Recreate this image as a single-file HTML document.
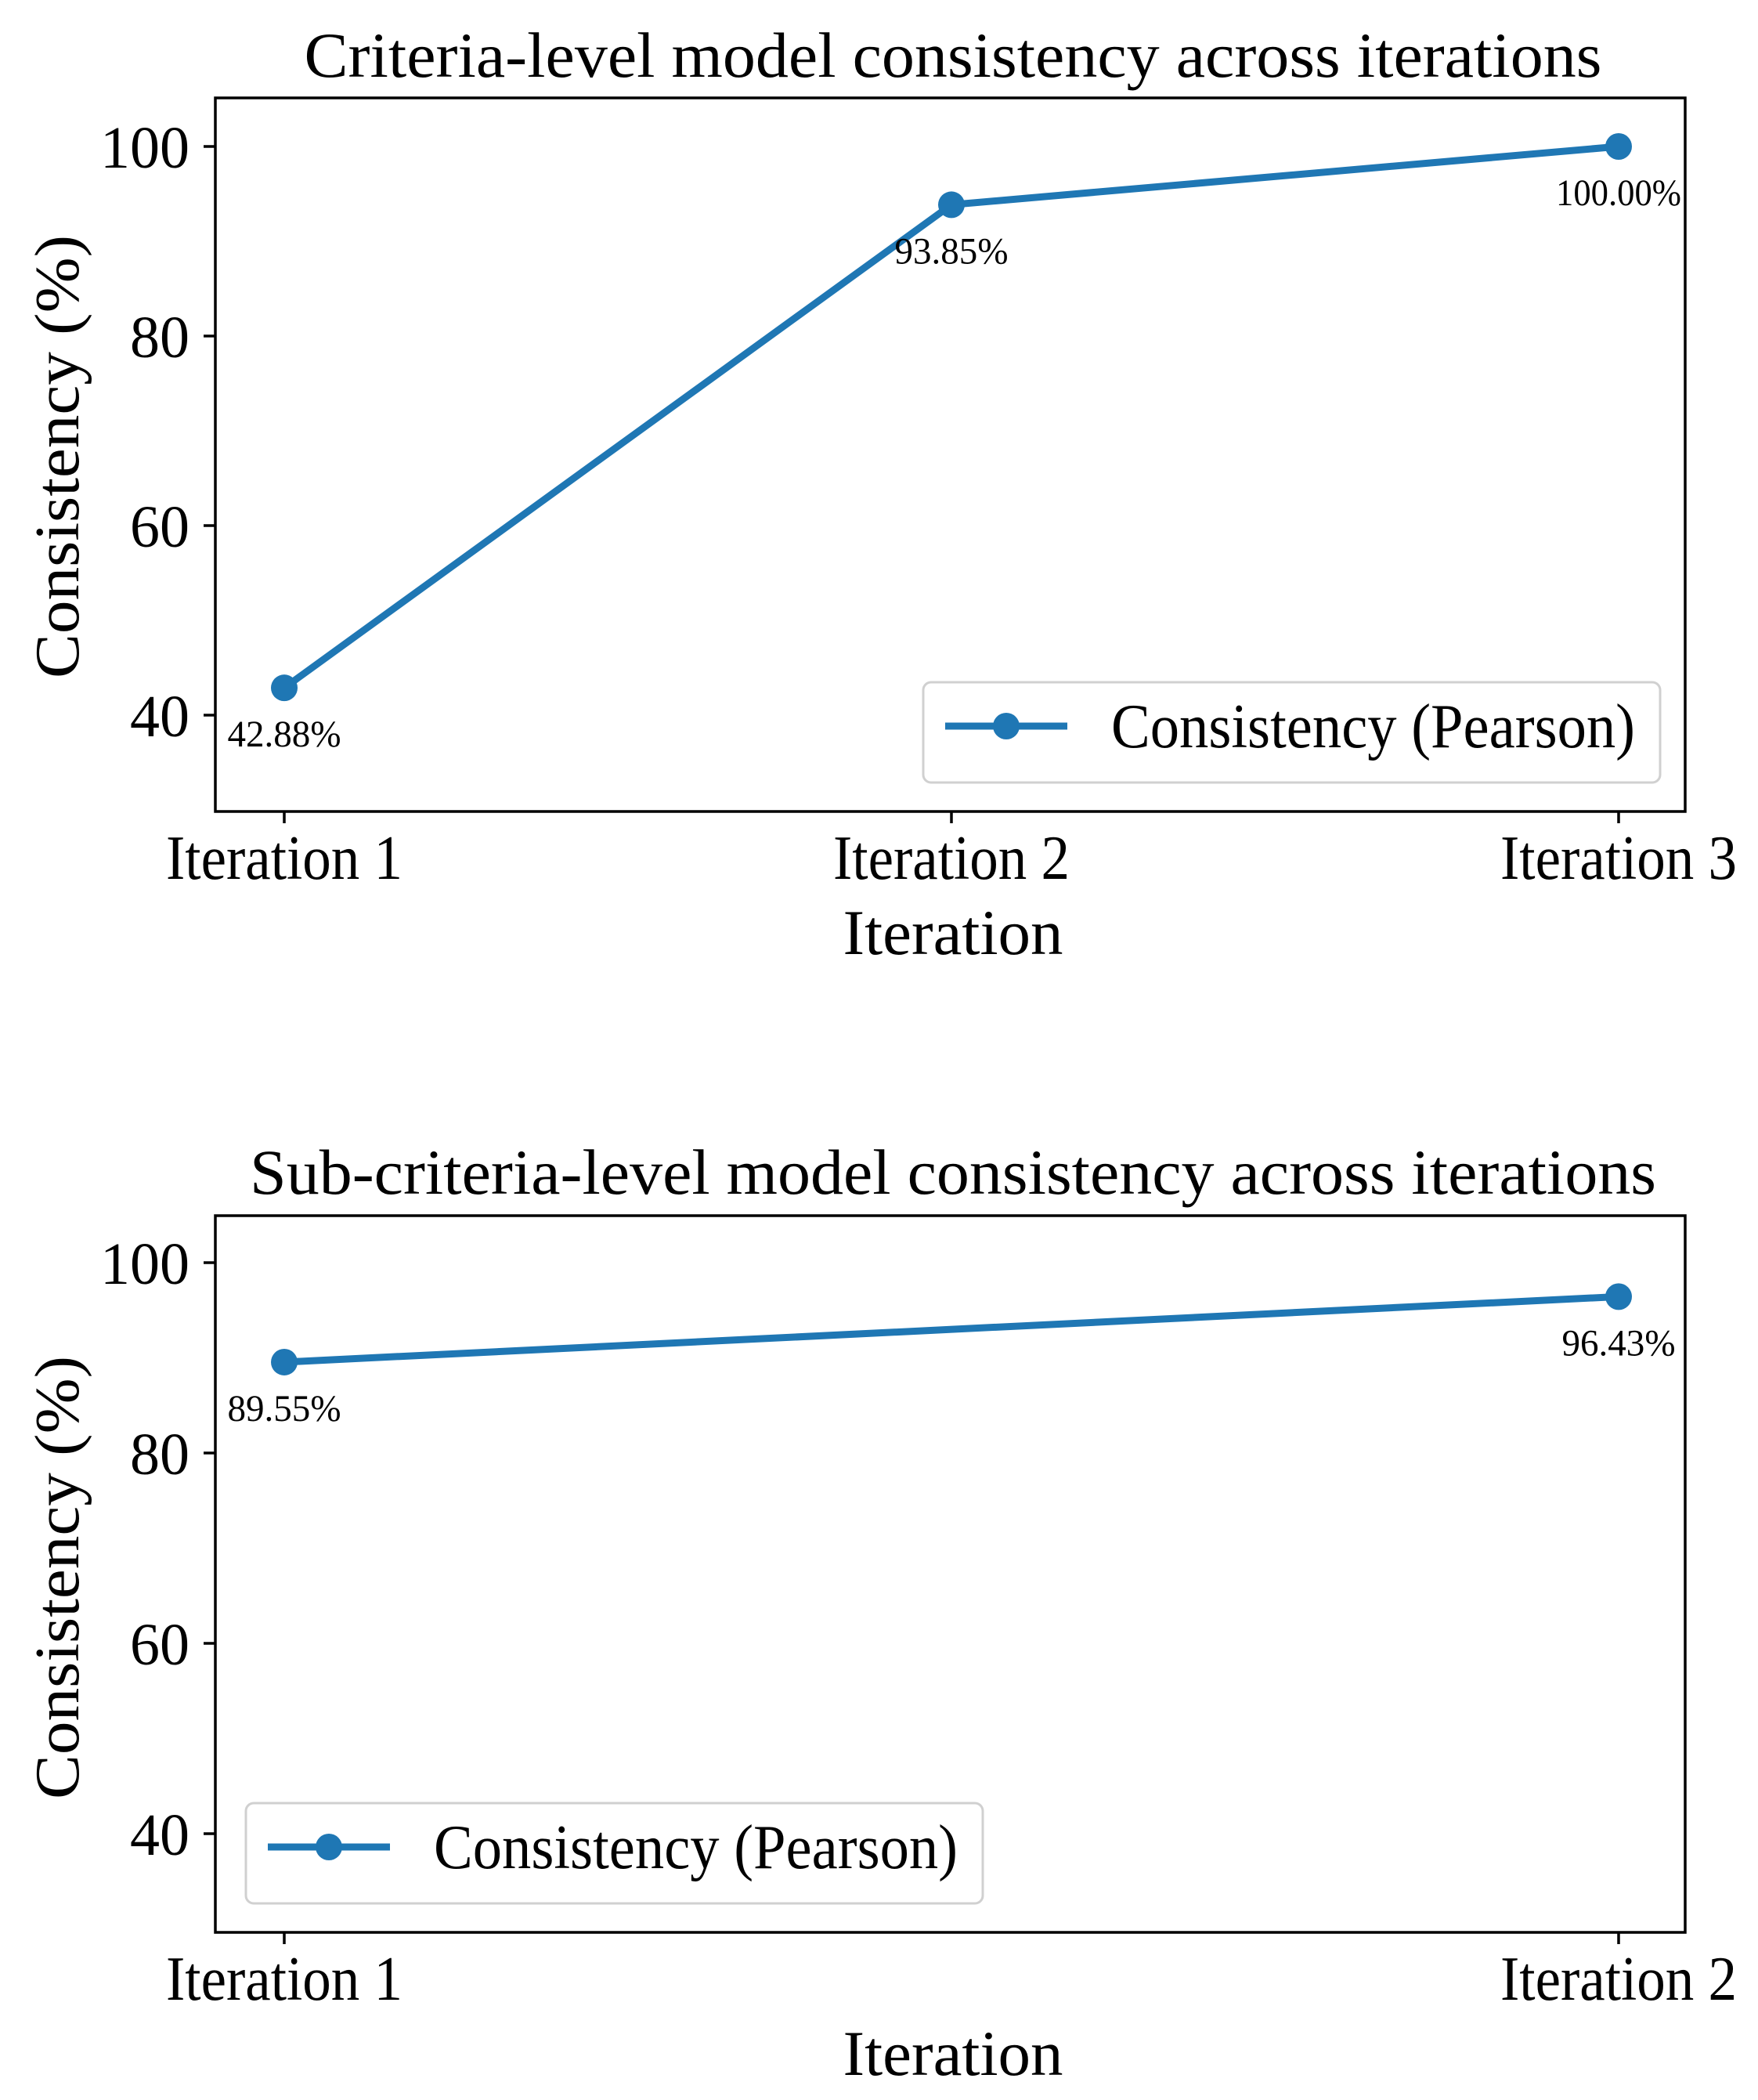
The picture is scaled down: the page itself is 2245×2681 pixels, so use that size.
<!DOCTYPE html>
<html><head><meta charset="utf-8"><style>
html,body{margin:0;padding:0;background:#fff;}
svg{display:block;}
text{font-family:"Liberation Serif",serif;fill:#000;}
</style></head><body>
<svg id="fig" width="2245" height="2681" viewBox="0 0 2245 2681" xmlns="http://www.w3.org/2000/svg"></svg>
<script>
const cats1 = ["Iteration 1","Iteration 2","Iteration 3"];
const vals1 = [42.88, 93.85, 100.00];
const cats2 = ["Iteration 1","Iteration 2"];
const vals2 = [89.55, 96.43];
const yTicks = [40, 60, 80, 100];
const titles = ["Criteria-level model consistency across iterations","Sub-criteria-level model consistency across iterations"];

const NS = "http://www.w3.org/2000/svg";
const svg = document.getElementById('fig');
function mk(tag, attrs, parent){
  const e = document.createElementNS(NS, tag);
  for (const k in attrs) e.setAttribute(k, attrs[k]);
  (parent||svg).appendChild(e);
  return e;
}
const BLUE = "#1f77b4";

function drawChart(cfg){
  const g = mk('g', {});
  
  
  const L=275, R=2152, T=cfg.top, B=cfg.bottom;
  const X0=363, X1=2067;
  const n = cfg.cats.length;
  const xs = i => X0 + (X1-X0)*i/(n-1);
  const ys = v => cfg.y100 + (100-v)*cfg.ppu;

  const t = mk('text', {x:1217, y:cfg.titleY, 'text-anchor':'middle', 'font-size':82, textLength:cfg.titleW, lengthAdjust:'spacingAndGlyphs'}, g);
  t.textContent = cfg.title;
  
  

  yTicks.forEach(v=>{
    const y = ys(v);
    const tk = mk('line', {x1:L-15, x2:L, y1:y, y2:y, stroke:'#000', 'stroke-width':3.5}, g);
    
    
    const tl = mk('text', {x:242, y:y+27, 'text-anchor':'end', 'font-size':76}, g);
    tl.textContent = v;
    
    
  });
  cfg.cats.forEach((c,i)=>{
    const x = xs(i);
    const tk = mk('line', {x1:x, x2:x, y1:B, y2:B+15, stroke:'#000', 'stroke-width':3.5}, g);
    
    
    const tl = mk('text', {x:x, y:B+86, 'text-anchor':'middle', 'font-size':80, textLength:302, lengthAdjust:'spacingAndGlyphs'}, g);
    tl.textContent = c;
    
    
  });
  const xl = mk('text', {x:1217, y:B+182, 'text-anchor':'middle', 'font-size':82, textLength:281, lengthAdjust:'spacingAndGlyphs'}, g);
  xl.textContent = 'Iteration';
  
  
  const yl = mk('text', {x:0, y:0, 'text-anchor':'middle', 'font-size':80, textLength:566, lengthAdjust:'spacingAndGlyphs', transform:`translate(100,${cfg.ylabelY}) rotate(-90)`}, g);
  yl.textContent = 'Consistency (%)';
  
  

  const pts = cfg.vals.map((v,i)=>xs(i)+','+ys(v)).join(' ');
  const pl = mk('polyline', {points:pts, fill:'none', stroke:BLUE, 'stroke-width':9, 'stroke-linejoin':'round'}, g);
  
  
  cfg.vals.forEach((v,i)=>{
    const c = mk('circle', {cx:xs(i), cy:ys(v), r:17, fill:BLUE}, g);
    
    
    const lb = mk('text', {x:xs(i), y:ys(v)+75, 'text-anchor':'middle', 'font-size':48, textLength:(v>=100?160:145), lengthAdjust:'spacingAndGlyphs'}, g);
    lb.textContent = v.toFixed(2)+'%';
    
    
  });

  const fr = mk('rect', {x:L, y:T, width:R-L, height:B-T, fill:'none', stroke:'#000', 'stroke-width':3.5}, g);
  
  

  const lg = mk('g', {}, g);
  
  
  const lx = cfg.legX, lyT = cfg.legY;
  mk('rect', {x:lx, y:lyT, width:941, height:128, rx:10, fill:'#fff', 'fill-opacity':0.85, stroke:'#d0d0d0', 'stroke-width':3}, lg);
  const ly = lyT+56;
  mk('line', {x1:lx+28, x2:lx+184, y1:ly, y2:ly, stroke:BLUE, 'stroke-width':9}, lg);
  mk('circle', {cx:lx+106, cy:ly, r:17, fill:BLUE}, lg);
  const lt = mk('text', {x:lx+240, y:ly+27, 'font-size':80, textLength:669, lengthAdjust:'spacingAndGlyphs'}, lg);
  lt.textContent = 'Consistency (Pearson)';
  
  
}

drawChart({name:'criteria-chart', title:titles[0], titleW:1657, titleY:98, top:125, bottom:1036, y100:187, ppu:12.1, cats:cats1, vals:vals1, legX:1179, legY:871, ylabelY:583});
drawChart({name:'sub-criteria-chart', title:titles[1], titleW:1796, titleY:1524, top:1552, bottom:2467, y100:1612, ppu:12.15, cats:cats2, vals:vals2, legX:314, legY:2302, ylabelY:2014});
</script>
</body></html>
